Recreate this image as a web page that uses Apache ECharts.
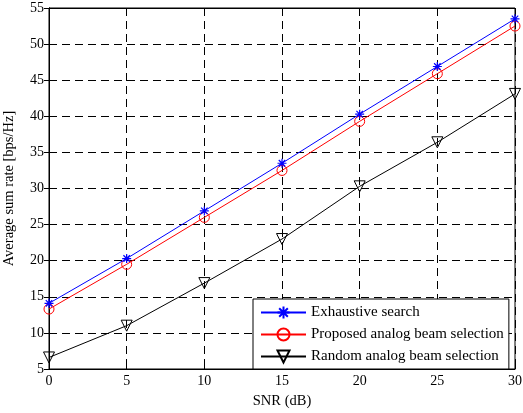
<!DOCTYPE html>
<html><head><meta charset="utf-8">
<script src="https://cdn.jsdelivr.net/npm/echarts@6/dist/echarts.min.js"></script>
<style>html,body{margin:0;padding:0;background:#fff}#c{width:523px;height:413px}</style>
</head><body><div id="c"></div>
<script>
const snr = [0, 5, 10, 15, 20, 25, 30];
const exhaustive = [14.1, 20.3, 26.9, 33.5, 40.3, 46.9, 53.5];
const proposed = [13.3, 19.5, 26.0, 32.5, 39.3, 45.9, 52.5];
const randomSel = [6.6, 11.0, 16.9, 23.0, 30.3, 36.4, 43.1];
const seriesNames = ['Exhaustive search', 'Proposed analog beam selection', 'Random analog beam selection'];
const xTitle = 'SNR (dB)';
const yTitle = 'Average sum rate [bps/Hz]';

const font = 'Liberation Serif';
const pairs = arr => snr.map((x, i) => [x, arr[i]]);
const star = 'path://M-1,0L1,0M0,-1L0,1M-0.72,-0.72L0.72,0.72M-0.72,0.72L0.72,-0.72';

const chart = echarts.init(document.getElementById('c'));
const axisCommon = {
  type: 'value',
  axisLine: {show: true, lineStyle: {color: '#000', width: 1}},
  axisTick: {show: true, inside: true, length: 5, lineStyle: {color: '#000'}},
  axisLabel: {color: '#000', fontFamily: font, fontSize: 14},
  splitLine: {show: false}
};
const dash = {show: true, lineStyle: {color: '#000', type: [8, 5], width: 1}};
chart.setOption({
  animation: false,
  backgroundColor: '#fff',
  grid: {left: 49, right: 8, top: 8, bottom: 44, show: true, borderColor: '#000', borderWidth: 1,
    containLabel: false, outerBoundsMode: 'none'},
  xAxis: [
    Object.assign({}, axisCommon, {min: 0, max: 30, interval: 5, position: 'bottom',
      name: xTitle, nameLocation: 'middle', nameGap: 25,
      nameTextStyle: {color: '#000', fontFamily: font, fontSize: 14.5},
      axisLabel: {color: '#000', fontFamily: font, fontSize: 14, margin: 5},
      splitLine: dash}),
    Object.assign({}, axisCommon, {min: 0, max: 30, interval: 5, position: 'top',
      axisLabel: {show: false}})
  ],
  yAxis: [
    Object.assign({}, axisCommon, {min: 5, max: 55, interval: 5, position: 'left',
      name: yTitle, nameLocation: 'middle', nameGap: 32,
      nameTextStyle: {color: '#000', fontFamily: font, fontSize: 14.5},
      axisLabel: {color: '#000', fontFamily: font, fontSize: 14, margin: 5},
      splitLine: dash}),
    Object.assign({}, axisCommon, {min: 5, max: 55, interval: 5, position: 'right',
      axisLabel: {show: false}})
  ],
  legend: {
    orient: 'vertical', left: 253, top: 299,
    backgroundColor: '#fff', borderColor: '#000', borderWidth: 1,
    padding: [5, 5, 4, 7], itemGap: 5, itemWidth: 45, itemHeight: 15,
    textStyle: {color: '#000', fontFamily: font, fontSize: 15},
    data: seriesNames
  },
  series: [
    {name: seriesNames[0], type: 'line', data: pairs(exhaustive), symbol: star, symbolSize: 9,
      lineStyle: {color: '#0000ff', width: 1}, itemStyle: {color: 'none', borderColor: '#0000ff', borderWidth: 1.2}, z: 5},
    {name: seriesNames[1], type: 'line', data: pairs(proposed), symbol: 'circle', symbolSize: 10,
      lineStyle: {color: '#ff0000', width: 1}, itemStyle: {color: 'none', borderColor: '#ff0000', borderWidth: 1}, z: 4},
    {name: seriesNames[2], type: 'line', data: pairs(randomSel), symbol: 'triangle', symbolRotate: 180, symbolSize: 11,
      lineStyle: {color: '#000', width: 1}, itemStyle: {color: 'none', borderColor: '#000', borderWidth: 1}, z: 3}
  ]
});
</script></body></html>
